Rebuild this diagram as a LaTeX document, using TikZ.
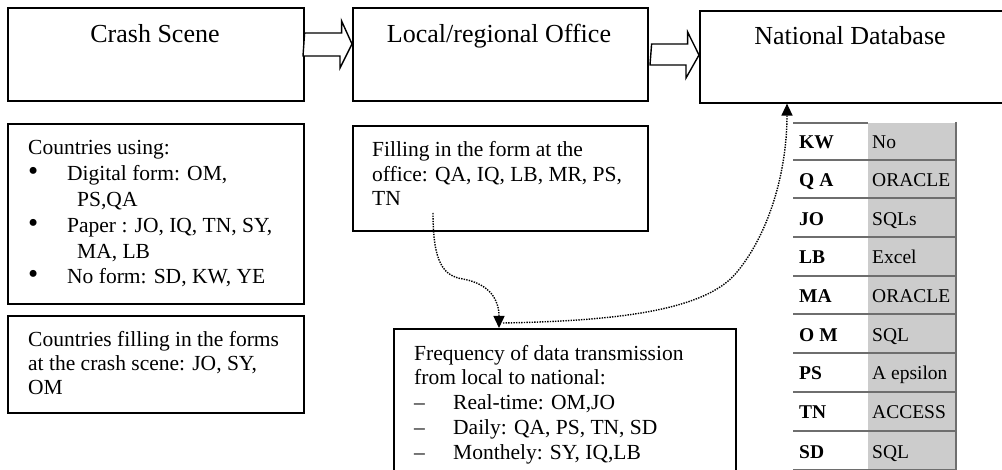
\documentclass[tikz,border=0pt]{standalone}
\usepackage{fontspec}
\setmainfont{Liberation Serif}
\usetikzlibrary{arrows.meta,calc}
\definecolor{cellgray}{HTML}{CCCCCC}
\definecolor{rulegray}{HTML}{6E6E6E}
\newcommand{\bigbul}{\makebox[39pt][l]{\raisebox{0.3pt}{\scalebox{1.35}{\textbullet}}}}
\begin{document}
\begin{tikzpicture}[x=1pt,y=-1pt,
  box/.style={draw, line width=1.6pt, inner sep=0pt, anchor=north west},
  titletext/.style={font=\fontsize{26}{30}\selectfont, inner sep=0pt, anchor=base},
  body/.style={align=left, inner sep=0pt, anchor=base west},
  blockarrow/.style={draw, line width=1.4pt, fill=white, line join=miter},
  dotarrow/.style={line width=1.4pt, dash pattern=on 1.4pt off 1.2pt, -{Triangle[length=12pt,width=11pt]}},
  cellL/.style={font=\bfseries\fontsize{19.5}{22}\selectfont, anchor=base west, inner sep=0pt},
  cellR/.style={font=\fontsize{19.5}{22}\selectfont, anchor=base west, inner sep=0pt},
]
\clip (0,0) rectangle (1002,470);
\fill[white] (0,0) rectangle (1002,470);

% top boxes
\node[box, minimum width=296pt, minimum height=93pt] (crash) at (7,7) {};
\node[box, minimum width=295pt, minimum height=93pt] (office) at (352,7) {};
\node[box, minimum width=330pt, minimum height=92pt] (natdb) at (699,10) {};
\node[titletext] (crasht) at (155,43) {Crash Scene};
\node[titletext] (officet) at (499,43) {Local/regional Office};
\node[titletext] (natdbt) at (850,45) {National Database};

% block arrows
\draw[blockarrow] ($(crash.north east)+(0,26)$) -- ++(37,0) -- ++(0,-12)
  -- ($(office.north west)+(0,37)$) -- ++(-12,24) -- ++(0,-12) -- ++(-37,0) -- cycle;
\draw[blockarrow] ($(office.north east)+(3,37)$) -- ++(36,0) -- ++(0,-12)
  -- ($(natdb.north west)+(0,45)$) -- ++(-13,23) -- ++(0,-13) -- ++(-36,0) -- cycle;

% info boxes (text nodes are placed by the baseline of their last line)
\node[box, minimum width=296pt, minimum height=180pt] (using) at (7,123) {};
\node[body, font=\fontsize{21.5}{25.8}\selectfont] (usingt) at (28,284) {Countries using:\\
\bigbul Digital form: OM,\\
\hspace*{49pt}PS,QA\\
\bigbul Paper : JO, IQ, TN, SY,\\
\hspace*{49pt}MA, LB\\
\bigbul No form: SD, KW, YE};

\node[box, minimum width=296pt, minimum height=97pt] (filling) at (7,315) {};
\node[body, font=\fontsize{21.5}{24}\selectfont] (fillingt) at (28,395) {Countries filling in the forms\\
at the crash scene: JO, SY,\\
OM};

\node[box, minimum width=295pt, minimum height=105pt] (atoffice) at (352,125) {};
\node[body, font=\fontsize{21.5}{24.5}\selectfont] (atofficet) at (372,206) {Filling in the form at the\\
office: QA, IQ, LB, MR, PS,\\
TN};

\node[box, minimum width=342pt, minimum height=170pt] (freq) at (393,328) {};
\node[body, font=\fontsize{21.5}{24.75}\selectfont] (freqt) at (414,459) {Frequency of data transmission\\
from local to national:\\
\makebox[39pt][l]{--}Real-time: OM,JO\\
\makebox[39pt][l]{--}Daily: QA, PS, TN, SD\\
\makebox[39pt][l]{--}Monthely: SY, IQ,LB};

% dotted connectors
\coordinate (s1) at (433,213);
\coordinate (e1) at ($(freq.north west)+(106,0)$);
\draw[dotarrow] (s1) .. controls (433,262) and (443,276) .. (463,279)
  .. controls (490,284) and (499,300) .. (e1);
\coordinate (s2) at (503,323);
\coordinate (e2) at ($(natdb.south west)+(88,0)$);
\draw[dotarrow] (s2) .. controls (610,321) and (705,312) .. (737,272)
  .. controls (770,232) and (787,170) .. (e2);

% table
\fill[cellgray] (868,123) rectangle (955,470);
\draw[rulegray, line width=1.8pt] (793,123) -- (868,123);
\foreach \y in {160,198.5,237,276,314.5,353,392,431,470}
  \draw[rulegray, line width=2pt] (793,\y) -- (955,\y);
\draw[rulegray, line width=2.6pt] (956,122) -- (956,472);
\foreach \k/\c/\v/\yc in {1/KW/No/141.5, 2/Q A/ORACLE/179.3, 3/JO/SQLs/217.8, 4/LB/Excel/256.5,
  5/MA/ORACLE/295.3, 6/O M/SQL/333.8, 7/PS/A epsilon/372.5, 8/TN/ACCESS/411.5, 9/SD/SQL/450.5}{
  \node[cellL] (code\k) at (799,\yc+7.5) {\c};
  \node[cellR] (db\k) at (872,\yc+7.5) {\v};
}
\end{tikzpicture}
\end{document}
